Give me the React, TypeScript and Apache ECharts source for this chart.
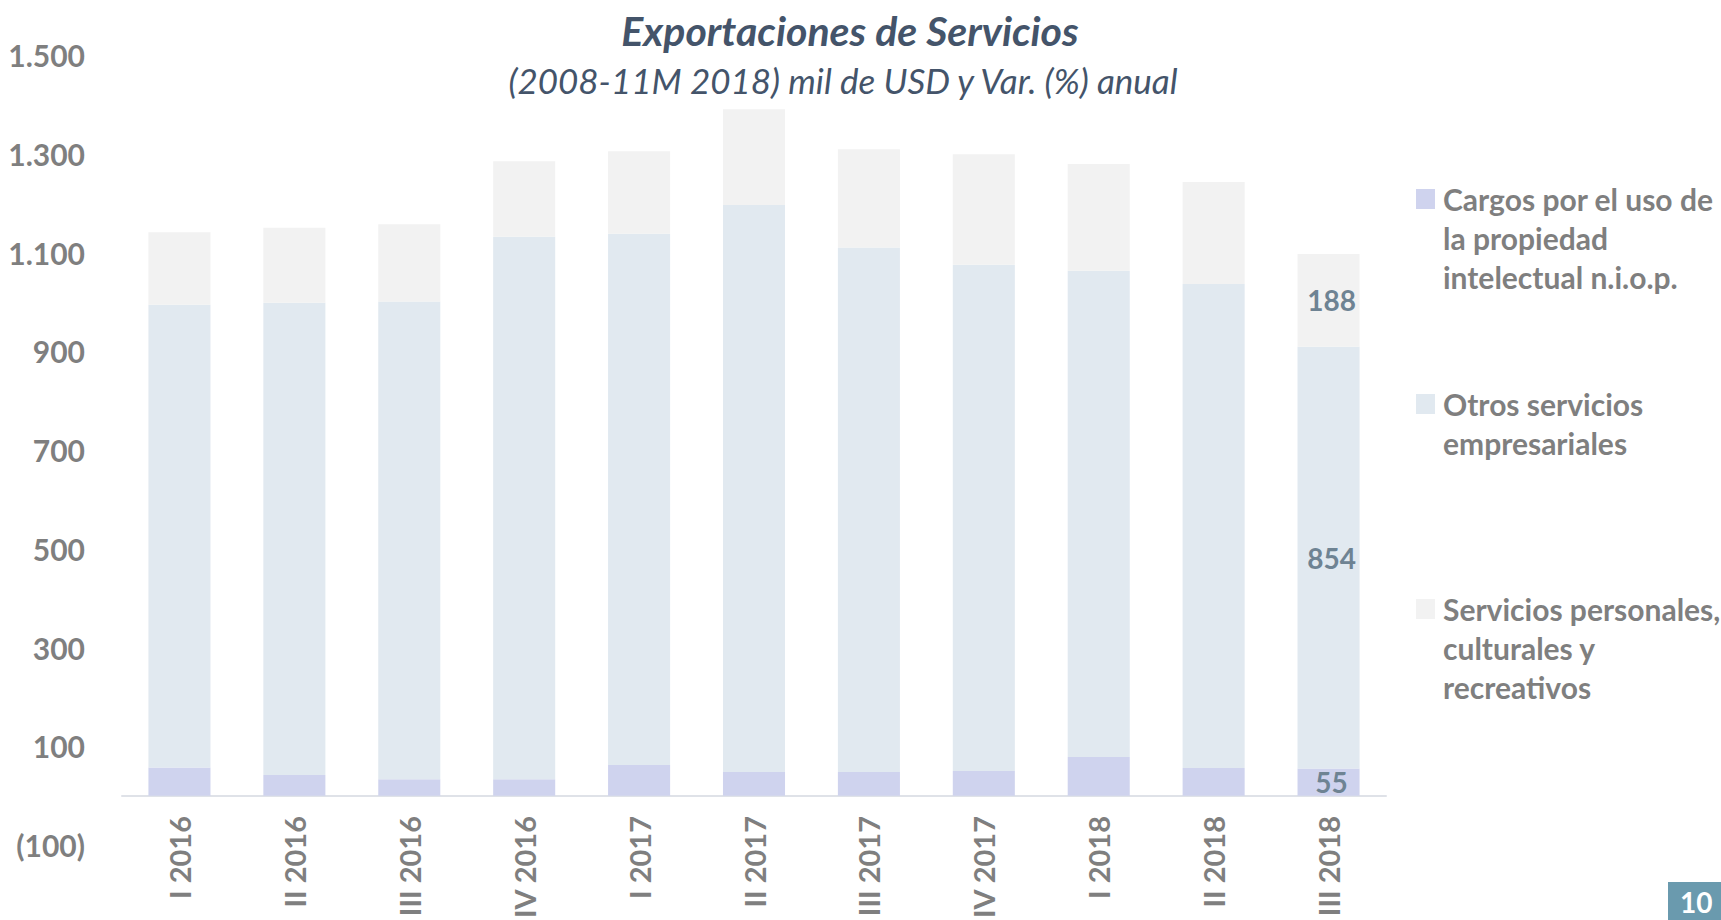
import React, { useEffect, useRef } from 'react';
import * as echarts from 'echarts';

const categories = ['I 2016', 'II 2016', 'III 2016', 'IV 2016', 'I 2017', 'II 2017', 'III 2017', 'IV 2017', 'I 2018', 'II 2018', 'III 2018'];
const cargos = [57, 42, 33, 33, 62, 48, 48, 50, 78, 56, 55];
const otros = [937, 956, 968, 1099, 1076, 1148, 1062, 1025, 985, 980, 854];
const personales = [147, 152, 156, 153, 167, 194, 199, 224, 216, 207, 188];
const seriesNames = [
  'Cargos por el uso de la propiedad intelectual n.i.o.p.',
  'Otros servicios empresariales',
  'Servicios personales, culturales y recreativos',
];
const legendLines = [
  ['Cargos por el uso de', 'la propiedad', 'intelectual n.i.o.p.'],
  ['Otros servicios', 'empresariales'],
  ['Servicios personales,', 'culturales y', 'recreativos'],
];
const seriesColors = ['#cfd3ee', '#e1e9f0', '#f2f2f2'];
const yMin = -100;
const yMax = 1500;
const yInterval = 200;
const titleText = 'Exportaciones de Servicios';
const subtitleText = '(2008-11M 2018) mil de USD y Var. (%) anual';
const pageNumber = '10';

const FONT = 'Lato, "Open Sans", sans-serif';

function fmt(v: number): string {
  const a = Math.abs(v);
  const s = a.toString().replace(/\B(?=(\d{3})+(?!\d))/g, '.');
  return v < 0 ? `(${s})` : s;
}

export default function App() {
  const ref = useRef<HTMLDivElement>(null);
  useEffect(() => {
    if (!ref.current) return;
    const chart = echarts.init(ref.current, undefined, { renderer: 'svg' });
    const last = categories.length - 1;
    const withLabel = (arr: number[]) =>
      arr.map((v, i) => (i === last ? { value: v, label: { show: true } } : v));
    const LH = 39;
    const legendTops = [101.5, 345.5, 511.5];
    const legends = seriesNames.map((name, i) => ({
      data: [name],
      orient: 'vertical',
      left: 1416,
      top: legendTops[i],
      padding: 0,
      itemWidth: 19,
      itemHeight: 20,
      itemGap: 0,
      selectedMode: false,
      icon: 'rect',
      formatter: () => {
        const lines = legendLines[i];
        const pre = new Array(lines.length - 1).fill(' ');
        return pre.concat(lines).join('\n');
      },
      textStyle: {
        fontFamily: FONT,
        fontWeight: 'bold',
        fontSize: 30,
        color: '#7f7f7f',
        lineHeight: LH,
        padding: [0, 0, 0, 3],
      },
    }));
    const labelStyle = {
      show: false,
      position: 'inside',
      offset: [3, 0],
      fontFamily: FONT,
      fontWeight: 'bold',
      fontSize: 28,
      color: '#6e8393',
    };
    chart.setOption({
      animation: false,
      backgroundColor: '#ffffff',
      title: [
        {
          text: titleText,
          left: 850,
          top: 10,
          textAlign: 'center',
          padding: 0,
          textStyle: { fontFamily: FONT, fontStyle: 'italic', fontWeight: 'bold', fontSize: 41, color: '#44546a' },
        },
        {
          text: subtitleText,
          left: 843,
          top: 62,
          textAlign: 'center',
          padding: 0,
          textStyle: { fontFamily: FONT, fontStyle: 'italic', fontWeight: 'normal', fontSize: 35, color: '#44546a' },
        },
      ],
      legend: legends,
      grid: { left: 122, right: 335, top: 55, bottom: 75, containLabel: false, outerBoundsMode: 'none' },
      xAxis: {
        type: 'category',
        data: categories,
        axisTick: { show: false },
        axisLine: { onZero: true, lineStyle: { color: '#dfe2e8', width: 2 } },
        axisLabel: {
          rotate: 90,
          margin: -29,
          interval: 0,
          fontFamily: FONT,
          fontWeight: 'bold',
          fontSize: 29,
          color: '#7f7f7f',
        },
      },
      yAxis: {
        type: 'value',
        min: yMin,
        max: yMax,
        interval: yInterval,
        axisLine: { show: false },
        axisTick: { show: false },
        splitLine: { show: false },
        axisLabel: {
          margin: 37,
          fontFamily: FONT,
          fontWeight: 'bold',
          fontSize: 30,
          color: '#7f7f7f',
          formatter: (v: number) => fmt(v),
        },
      },
      series: [cargos, otros, personales].map((arr, i) => ({
        name: seriesNames[i],
        type: 'bar',
        stack: 'total',
        barWidth: '54%',
        itemStyle: { color: seriesColors[i] },
        label: labelStyle,
        data: withLabel(arr),
      })),
      graphic: [
        { type: 'rect', left: 1668, top: 882, shape: { width: 60, height: 40 }, style: { fill: '#6a9aae' } },
        {
          type: 'text',
          left: 1680,
          top: 888,
          style: { text: pageNumber, fill: '#ffffff', fontFamily: FONT, fontWeight: 'bold', fontSize: 28 },
        },
      ],
    });
    return () => chart.dispose();
  }, []);
  return <div ref={ref} style={{ position: 'absolute', left: 0, top: 0, width: 1721, height: 920 }} />;
}
